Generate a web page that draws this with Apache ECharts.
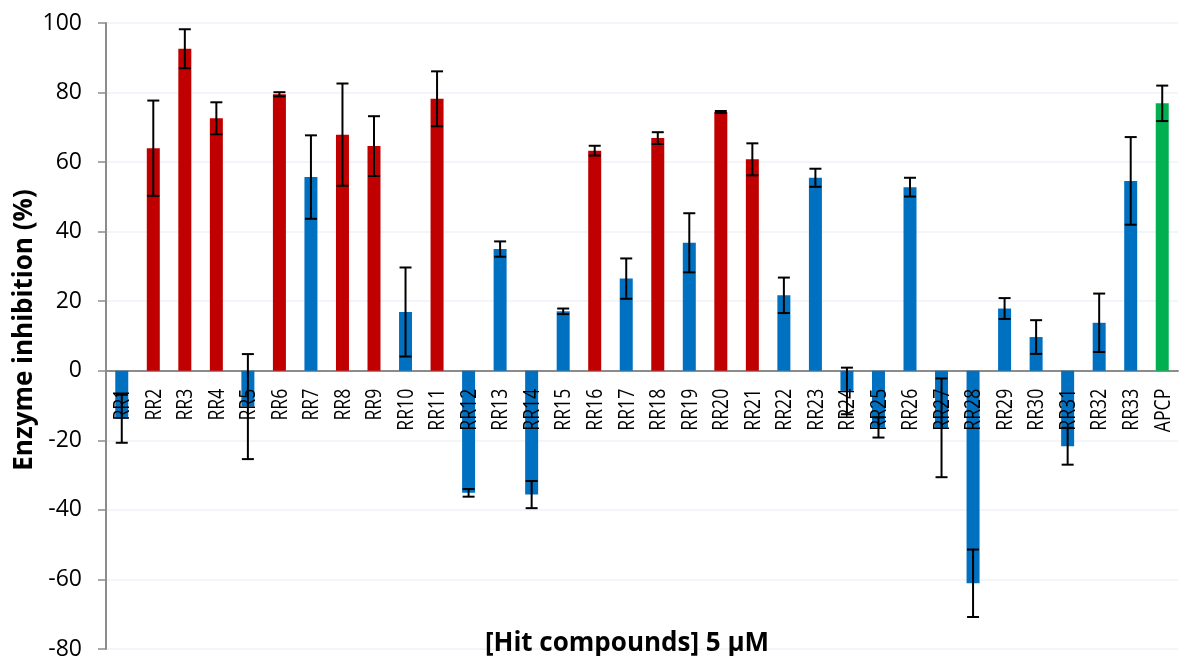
<!DOCTYPE html>
<html>
<head>
<meta charset="utf-8">
<script src="https://cdn.jsdelivr.net/npm/echarts@6/dist/echarts.min.js"></script>
<style>html,body{margin:0;padding:0;background:#fff}#c{width:1181px;height:656px}</style>
</head>
<body>
<div id="c"></div>
<script>
const categories = ['RR1','RR2','RR3','RR4','RR5','RR6','RR7','RR8','RR9','RR10','RR11','RR12','RR13','RR14','RR15','RR16','RR17','RR18','RR19','RR20','RR21','RR22','RR23','RR24','RR25','RR26','RR27','RR28','RR29','RR30','RR31','RR32','RR33','APCP'];
const values = [-13.8,64.0,92.6,72.6,-10.3,79.5,55.7,67.9,64.6,16.9,78.2,-35.1,35.0,-35.6,17.1,63.3,26.5,66.9,36.8,74.4,60.8,21.7,55.5,-5.8,-16.3,52.8,-16.4,-61.1,17.9,9.7,-21.7,13.8,54.6,76.9];
const errors = [6.9,13.7,5.6,4.6,15.1,0.6,12.0,14.7,8.6,12.8,7.9,1.1,2.2,3.9,0.8,1.4,5.8,1.7,8.5,0.3,4.6,5.1,2.6,6.7,2.9,2.7,14.2,9.7,3.0,4.85,5.3,8.4,12.6,5.1];
const groups = ['b','r','r','r','b','r','b','r','r','b','r','b','b','b','b','r','b','r','b','r','r','b','b','b','b','b','b','b','b','b','b','b','b','g'];
const groupColors = {r:'#C00000', b:'#0070C0', g:'#00B050'};
const yTicks = {min:-80, max:100, interval:20};

const barData = values.map((v,i)=>({value:v, itemStyle:{color:groupColors[groups[i]]}}));
const errData = values.map((v,i)=>[i, v-errors[i], v+errors[i]]);
const labelData = categories.map((c,i)=>[i, 0]);

const chart = echarts.init(document.getElementById('c'), null, {renderer:'canvas'});
const FONT = '"Open Sans", "Noto Sans", sans-serif';
chart.setOption({
  animation:false,
  backgroundColor:'#fff',
  grid:{left:106, right:3, top:23, bottom:7, containLabel:false, outerBoundsMode:'none'},
  title:[{
    text:'[Hit compounds] 5 µM', left:622, top:639, textAlign:'center', textVerticalAlign:'middle',
    textStyle:{fontFamily:FONT, fontWeight:'bold', fontSize:26, color:'#000'}
  }],
  graphic:[{
    type:'text', x:25, y:330, rotation:Math.PI/2,
    style:{text:'Enzyme inhibition (%)', font:'bold 26px '+FONT, fill:'#000', textAlign:'center', textVerticalAlign:'middle'}
  }],
  xAxis:{
    type:'category', data:categories,
    axisLine:{onZero:true, lineStyle:{color:'#8c8c8c', width:2}},
    axisTick:{show:false},
    axisLabel:{show:false},
    splitLine:{show:false}
  },
  yAxis:{
    type:'value', min:yTicks.min, max:yTicks.max, interval:yTicks.interval,
    axisLine:{show:true, lineStyle:{color:'#8c8c8c', width:2}},
    axisTick:{show:true, length:8, lineStyle:{color:'#8c8c8c', width:1.5}},
    axisLabel:{fontFamily:FONT, fontSize:23, color:'#000', margin:24},
    splitLine:{show:true, lineStyle:{color:'#eef3fa', width:1.5}}
  },
  series:[
    {type:'bar', data:barData, barWidth:13, z:2},
    {type:'custom', z:4, data:labelData, silent:true,
     renderItem:function(params, api){
       const p = api.coord([api.value(0), api.value(1)]);
       return {type:'text', x:p[0]+1, y:p[1]+18, rotation:Math.PI/2, scaleX:0.8,
         style:{text:categories[params.dataIndex], font:'22px '+FONT, fill:'#000', textAlign:'right', textVerticalAlign:'middle'}};
     }
    },
    {type:'custom', z:5, data:errData,
     renderItem:function(params, api){
       const x = api.value(0);
       const lo = api.coord([x, api.value(1)]);
       const hi = api.coord([x, api.value(2)]);
       const hw = 6;
       const st = {stroke:'#000', lineWidth:2};
       return {type:'group', children:[
         {type:'line', shape:{x1:lo[0], y1:lo[1], x2:hi[0], y2:hi[1]}, style:st},
         {type:'line', shape:{x1:lo[0]-hw, y1:lo[1], x2:lo[0]+hw, y2:lo[1]}, style:st},
         {type:'line', shape:{x1:hi[0]-hw, y1:hi[1], x2:hi[0]+hw, y2:hi[1]}, style:st}
       ]};
     }
    }
  ]
});
</script>
</body>
</html>
